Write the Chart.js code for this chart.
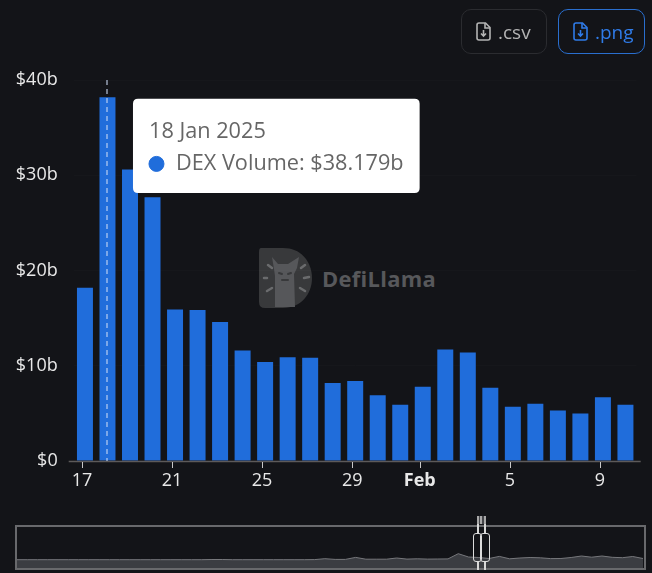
<!DOCTYPE html>
<html>
<head>
<meta charset="utf-8">
<title>DEX Volume</title>
<script src="https://cdn.jsdelivr.net/npm/chart.js@4"></script>
<style>
  html, body { margin: 0; padding: 0; background: #131418; }
  body { width: 652px; height: 573px; position: relative; overflow: hidden; font-family: "Open Sans", sans-serif; }
  canvas { position: absolute; }
  #chartMain { left: 0; top: 0; }
  #chartMini { left: 17px; top: 527px; }
  .btn { position: absolute; top: 9px; height: 43px; border-radius: 10px; border: 1px solid #2b2c30; box-sizing: content-box;
         display: flex; align-items: center; font-size: 19px; color: #b4b4b4; }
  .btn svg { margin: 0 7px 0 14px; }
  #btnCsv { left: 461px; width: 84px; }
  #btnPng { left: 558px; width: 85px; border-color: #2a6fcf; color: #2f7be8; }
  #logo { position: absolute; left: 255px; top: 244px; }
  #miniFrame { position: absolute; left: 15px; top: 525px; width: 627px; height: 41px; border: 2px solid #68696c; }
  .handle { position: absolute; top: 533px; height: 29px; border: 1.5px solid #dcdcdc; border-radius: 3px; box-sizing: border-box; }
  .rail { position: absolute; width: 2px; background: #d8d8d8; }
  #cap { position: absolute; left: 477px; top: 516px; width: 9px; height: 8px;
         background: repeating-linear-gradient(90deg, #a8a8a8 0 2px, #45464a 2px 3.5px); }
</style>
</head>
<body>
<svg id="logo" width="190" height="70" viewBox="0 0 190 70">
  <path d="M6 4 H28 C48 4 57 20 57 34 C57 50 46 64 28 64 H10 Q4 64 4 58 V8 Q4 4 6 4 Z" fill="#38393b"/>
  <path d="M17 13 L23 20 H33 L44 13 L42 24 L39 30 L40 63 H20 V32 L19 25 Z" fill="#56575a"/>
  <path d="M24 29 l3 1 M33 30 l3 -1 M27 36 h6" stroke="#38393b" stroke-width="2" stroke-linecap="round"/>
  <path d="M9 34 l3 0 M12 47 l5 -3 M13 21 l4 3 M46 24 l4 -3 M49 34 l5 -1 M45 44 l5 3" stroke="#6a6b6d" stroke-width="2.5" stroke-linecap="round"/>
  <text x="67" y="43" font-family="'Open Sans', sans-serif" font-weight="700" font-size="21.9" fill="#57585b" letter-spacing="0.3">DefiLlama</text>
</svg>

<canvas id="chartMain" width="652" height="573"></canvas>

<div class="btn" id="btnCsv">
  <svg width="15" height="19" viewBox="0 0 15 19" fill="none" stroke="currentColor" stroke-width="1.6"><path d="M3 1 H9.5 L14 5.5 V16 Q14 18 12 18 H3 Q1 18 1 16 V3 Q1 1 3 1 Z"/><path d="M9 1 V6 H14 M7.5 8 V14 M5 11.5 L7.5 14 L10 11.5"/></svg>.csv
</div>
<div class="btn" id="btnPng">
  <svg width="15" height="19" viewBox="0 0 15 19" fill="none" stroke="currentColor" stroke-width="1.6"><path d="M3 1 H9.5 L14 5.5 V16 Q14 18 12 18 H3 Q1 18 1 16 V3 Q1 1 3 1 Z"/><path d="M9 1 V6 H14 M7.5 8 V14 M5 11.5 L7.5 14 L10 11.5"/></svg>.png
</div>

<canvas id="chartMini" width="626" height="41"></canvas>
<div id="miniFrame"></div>
<div id="cap"></div>
<div class="rail" style="left:477px;top:524px;height:9px"></div>
<div class="rail" style="left:484px;top:524px;height:9px"></div>
<div class="rail" style="left:477px;top:562px;height:8px"></div>
<div class="rail" style="left:484px;top:562px;height:8px"></div>
<div class="handle" style="left:473px;width:9px"></div>
<div class="handle" style="left:480px;width:10px"></div>

<script>
const dates = ['17 Jan 2025','18 Jan 2025','19 Jan 2025','20 Jan 2025','21 Jan 2025','22 Jan 2025','23 Jan 2025','24 Jan 2025','25 Jan 2025','26 Jan 2025','27 Jan 2025','28 Jan 2025','29 Jan 2025','30 Jan 2025','31 Jan 2025','1 Feb 2025','2 Feb 2025','3 Feb 2025','4 Feb 2025','5 Feb 2025','6 Feb 2025','7 Feb 2025','8 Feb 2025','9 Feb 2025','10 Feb 2025'];
const tickLabels = ['17','','','','21','','','','25','','','','29','','','Feb','','','','5','','','','9',''];
const dexVolume = [18.2,38.179,30.6,27.7,15.9,15.85,14.6,11.6,10.4,10.9,10.85,8.2,8.4,6.9,5.9,7.8,11.7,11.4,7.7,5.7,6.0,5.3,5.0,6.7,5.9];
const miniValues = [8.3,8.3,8.3,8.3,8.3,8.3,8.3,8.3,8.3,8.3,8.3,8.3,8.3,8.3,8.3,8.3,8.3,8.3,8.3,8.5,8.5,8.3,8.3,8.3,8.3,8.3,8.3,8.3,8.3,8.4,9.3,8.6,8.6,10.6,8.8,8.8,8.8,10,8.9,9.2,8.9,9,9.1,14.3,11,10.5,9.5,11.6,9.2,10,10.5,10.2,9.4,9.5,10.5,12,10.8,12,10.7,10.3,11.5,9.5];
const activeIndex = 1;

const BLUE = '#206ddb';
const FONT = '"Open Sans", sans-serif';
const TICK_SHIFT = -3; // axis ticks sit a little left of the bar centres

Chart.Tooltip.positioners.besideBar = function (items) {
  if (!items.length) return false;
  return { x: items[0].element.x + 30.5, y: items[0].element.y - 0.5, xAlign: 'left', yAlign: 'top' };
};

// axis line, shifted tick marks, dashed line on the hovered bar
const axisAndCrosshair = {
  id: 'axisAndCrosshair',
  afterDatasetsDraw(chart) {
    const { ctx, chartArea, scales } = chart;
    const el = chart.getDatasetMeta(0).data[activeIndex];
    ctx.save();
    ctx.strokeStyle = '#5d5a5a';
    ctx.lineWidth = 1.5;
    ctx.beginPath();
    ctx.moveTo(chartArea.left - 5, chartArea.bottom + 0.5);
    ctx.lineTo(chartArea.right + 4, chartArea.bottom + 0.5);
    ctx.stroke();
    ctx.strokeStyle = '#c8c8c8';
    ctx.lineWidth = 1;
    tickLabels.forEach((t, i) => {
      if (!t) return;
      const x = Math.round(scales.x.getPixelForTick(i) + TICK_SHIFT) + 0.5;
      ctx.beginPath();
      ctx.moveTo(x, chartArea.bottom + 1);
      ctx.lineTo(x, chartArea.bottom + 7);
      ctx.stroke();
    });
    ctx.strokeStyle = 'rgba(205,220,245,0.7)';
    ctx.lineWidth = 1.5;
    ctx.setLineDash([5, 4]);
    ctx.beginPath();
    ctx.moveTo(Math.round(el.x), chartArea.top);
    ctx.lineTo(Math.round(el.x), chartArea.bottom);
    ctx.stroke();
    ctx.restore();
  }
};

const mainChart = new Chart(document.getElementById('chartMain'), {
  type: 'bar',
  data: {
    labels: dates,
    datasets: [{
      label: 'DEX Volume',
      data: dexVolume,
      backgroundColor: BLUE,
      hoverBackgroundColor: BLUE,
      barPercentage: 0.71,
      categoryPercentage: 1
    }]
  },
  options: {
    responsive: false,
    animation: false,
    events: [],
    layout: { padding: { top: 80, right: 15.3, bottom: 72, left: 0 } },
    plugins: {
      legend: { display: false },
      tooltip: {
        enabled: true,
        position: 'besideBar',
        backgroundColor: '#ffffff',
        titleColor: '#666666',
        bodyColor: '#666666',
        titleFont: { family: FONT, size: 21.7, weight: 'normal' },
        bodyFont: { family: FONT, size: 21.7 },
        titleMarginBottom: 6,
        padding: { top: 20, right: 16, bottom: 16, left: 16 },
        cornerRadius: 5,
        caretSize: 0,
        usePointStyle: true,
        boxWidth: 15,
        boxHeight: 15,
        boxPadding: 10,
        callbacks: {
          label: c => `${c.dataset.label}: $${c.parsed.y.toFixed(3)}b`,
          labelPointStyle: () => ({ pointStyle: 'circle', rotation: 0 }),
          labelColor: () => ({ backgroundColor: BLUE, borderColor: BLUE, borderWidth: 0 })
        }
      }
    },
    scales: {
      x: {
        border: { display: false },
        grid: { drawOnChartArea: false, tickLength: 6, tickColor: 'transparent' },
        ticks: {
          autoSkip: false,
          maxRotation: 0,
          padding: 3,
          labelOffset: TICK_SHIFT,
          color: '#e8e8e8',
          font: c => ({ family: FONT, size: 18, weight: tickLabels[c.index] === 'Feb' ? 'bold' : 'normal' }),
          callback: (v, i) => tickLabels[i]
        },
        afterFit: s => { s.height = 40; }
      },
      y: {
        min: 0,
        max: 40,
        border: { display: false },
        grid: { color: 'rgba(255,255,255,0.015)', drawTicks: false },
        ticks: {
          stepSize: 10,
          padding: 16,
          color: '#e8e8e8',
          font: { family: FONT, size: 18 },
          callback: v => v === 0 ? '$0' : `$${v}b`
        },
        afterFit: s => { s.width = 73.7; }
      }
    }
  },
  plugins: [axisAndCrosshair]
});

mainChart.setActiveElements([{ datasetIndex: 0, index: activeIndex }]);
mainChart.tooltip.setActiveElements([{ datasetIndex: 0, index: activeIndex }], { x: 0, y: 0 });
mainChart.update();

new Chart(document.getElementById('chartMini'), {
  type: 'line',
  data: {
    labels: miniValues.map((v, i) => i),
    datasets: [{
      data: miniValues,
      borderColor: '#77787c',
      borderWidth: 1,
      backgroundColor: '#3b3d42',
      fill: 'origin',
      pointRadius: 0,
      tension: 0
    }]
  },
  options: {
    responsive: false,
    animation: false,
    events: [],
    layout: { padding: 0 },
    plugins: { legend: { display: false }, tooltip: { enabled: false } },
    scales: {
      x: { display: false, offset: false },
      y: { display: false, min: 0, max: 41 }
    }
  }
});
</script>
</body>
</html>
